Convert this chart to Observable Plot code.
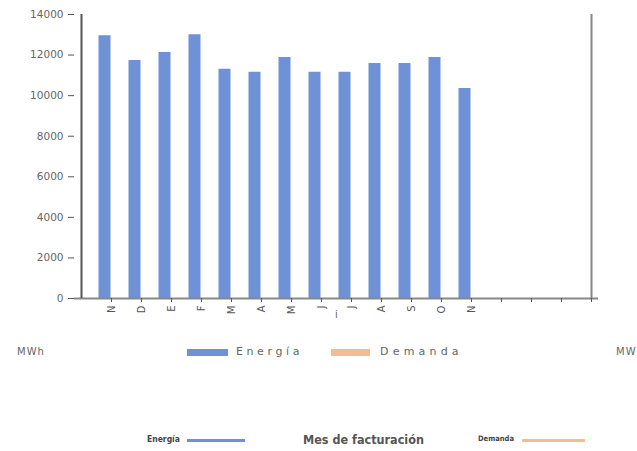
<!DOCTYPE html>
<html>
<head>
<meta charset="utf-8">
<script src="https://cdn.jsdelivr.net/npm/d3@7"></script>
<script src="https://cdn.jsdelivr.net/npm/@observablehq/plot@0.6"></script>
<style>
  html, body { margin: 0; padding: 0; background: #fff; }
  body { width: 637px; height: 451px; position: relative; overflow: hidden; font-family: "DejaVu Sans", sans-serif; }
  #chart { position: absolute; left: 0; top: 0; }
  .lg { position: absolute; color: #666; white-space: nowrap; }
  .sw { position: absolute; }
  .nar { font-family: 'Liberation Sans Narrow','DejaVu Sans Condensed',sans-serif; font-weight: bold; }
</style>
</head>
<body>
<div id="chart"></div>
<div class="lg" style="left:17px; top:346px; font-size:10px; letter-spacing:1px;">MWh</div>
<div class="sw" style="left:187px; top:349px; width:41px; height:7px; background:#6f91d6;"></div>
<div class="lg" style="left:236px; top:345px; font-size:11px; letter-spacing:3.6px;">Energía</div>
<div class="sw" style="left:331px; top:349px; width:39px; height:7px; background:#f5bc91;"></div>
<div class="lg" style="left:380px; top:345px; font-size:11px; letter-spacing:4.2px;">Demanda</div>
<div class="lg" style="left:616px; top:346px; font-size:10px; letter-spacing:1px;">MW</div>

<div class="lg nar" style="left:147px; top:434px; font-size:8.5px; color:#444;">Energía</div>
<div class="sw" style="left:187px; top:439px; width:58px; height:3px; background:#6f91d6;"></div>
<div class="lg nar" style="left:303px; top:432px; font-size:12.5px; color:#555;">Mes de facturación</div>
<div class="lg nar" style="left:478px; top:434px; font-size:7.5px; color:#444;">Demanda</div>
<div class="sw" style="left:522px; top:439px; width:63px; height:3px; background:#f5bc91;"></div>

<script>
// Data
const meses = ["N","D","E","F","M","A","M","J","J","A","S","O","N"];
const energia = [12950, 11730, 12130, 13000, 11300, 11150, 11880, 11150, 11150, 11580, 11580, 11880, 10350];
const demanda = [0, 0, 0, 0, 0, 0, 0, 0, 0, 0, 0, 0, 0];
const yTicks = [0, 2000, 4000, 6000, 8000, 10000, 12000, 14000];
const nSlots = 18; // origin slot + 13 months + 4 empty slots

const rows = meses.map((m, k) => ({i: k + 1, mes: m, energia: energia[k], demanda: demanda[k]}));
const xDomain = d3.range(nSlots);

const chart = Plot.plot({
  width: 637,
  height: 320,
  marginTop: 14,
  marginBottom: 22,
  marginLeft: 74,
  marginRight: 39,
  style: {fontFamily: "DejaVu Sans, sans-serif", background: "white", color: "#666"},
  x: {type: "point", domain: xDomain, padding: 0, axis: null},
  y: {domain: [0, 14000], axis: null},
  marks: [
    Plot.ruleX(rows, {x: "i", y1: 0, y2: "energia", stroke: "#6f91d6", strokeWidth: 12, dx: -7}),
    Plot.ruleX(rows, {x: "i", y1: 0, y2: "demanda", stroke: "#f5bc91", strokeWidth: 12, dx: 5}),
    Plot.ruleY([0], {stroke: "#888", strokeWidth: 2}),
    Plot.ruleX([0], {y1: 0, y2: 14000, stroke: "#555", strokeWidth: 2}),
    Plot.ruleX([nSlots - 1], {y1: 0, y2: 14000, stroke: "#888", strokeWidth: 2}),
    Plot.axisY({ticks: yTicks, tickSize: 6, tickPadding: 5, fontSize: 10.5, stroke: "#555", fill: "#666", tickFormat: d => String(d)}),
    Plot.axisX({ticks: xDomain.slice(1), tickSize: 4, text: null, stroke: "#555"}),
    Plot.text(rows, {x: "i", y: 0, text: "mes", rotate: -90, textAnchor: "end", lineAnchor: "middle", dy: 7, fontSize: 10, fill: "#555"})
  ]
});
document.getElementById("chart").appendChild(chart);
</script>
</body>
</html>
